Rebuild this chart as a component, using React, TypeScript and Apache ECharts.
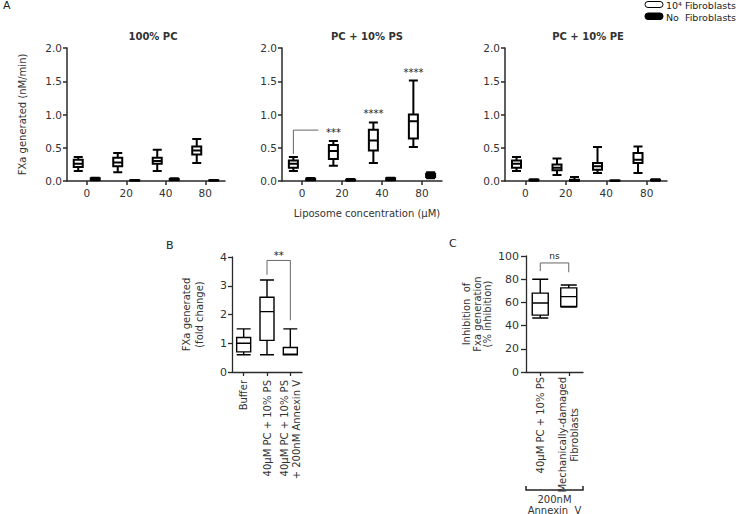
import React, { useEffect, useRef } from 'react';
import * as echarts from 'echarts';

const FONT = 'DejaVu Sans';
const TEXT = '#333';
const AXIS = '#2a2a2a';

// ---------- Panel A ----------
const concentrations = ['0', '20', '40', '80'];
const panelTitles = ['100% PC', 'PC + 10% PS', 'PC + 10% PE'];
// boxplot values: [min, Q1, median, Q3, max]
const pcFibro = [[0.15, 0.21, 0.26, 0.32, 0.36], [0.13, 0.22, 0.28, 0.35, 0.42], [0.15, 0.26, 0.30, 0.35, 0.47], [0.27, 0.40, 0.46, 0.52, 0.63]];
const pcNoFibro = [[0.01, 0.02, 0.03, 0.04, 0.05], [0.004, 0.007, 0.01, 0.013, 0.016], [0.01, 0.015, 0.02, 0.03, 0.04], [0.004, 0.007, 0.01, 0.013, 0.016]];
const psFibro = [[0.15, 0.20, 0.26, 0.31, 0.36], [0.23, 0.33, 0.45, 0.54, 0.60], [0.27, 0.46, 0.61, 0.77, 0.88], [0.51, 0.64, 0.90, 1.00, 1.51]];
const psNoFibro = [[0.01, 0.015, 0.025, 0.035, 0.045], [0.005, 0.01, 0.015, 0.02, 0.03], [0.01, 0.02, 0.03, 0.04, 0.05], [0.04, 0.06, 0.09, 0.11, 0.13]];
const peFibro = [[0.15, 0.20, 0.26, 0.31, 0.36], [0.09, 0.16, 0.20, 0.25, 0.34], [0.12, 0.17, 0.22, 0.27, 0.51], [0.12, 0.27, 0.32, 0.42, 0.52]];
const peNoFibro = [[0.005, 0.01, 0.015, 0.02, 0.025], [0, 0.005, 0.01, 0.02, 0.06], [0, 0.003, 0.005, 0.007, 0.01], [0.005, 0.01, 0.015, 0.02, 0.025]];
const psStars = ['', '***', '****', '****'];
const legendNames = ['10⁴ Fibroblasts', 'No  Fibroblasts'];

// ---------- Panel B ----------
const bCategories = ['Buffer', '40μM PC + 10% PS', '40μM PC + 10% PS\n+ 200nM Annexin V'];
const bValues = [[0.6, 0.7, 1.0, 1.2, 1.5], [0.6, 1.1, 2.1, 2.6, 3.2], [0.6, 0.6, 0.62, 0.85, 1.5]];
const bBracket = { from: 1, to: 2, top: 3.88, leftEnd: 3.38, rightEnd: 1.8, label: '**' };

// ---------- Panel C ----------
const cCategories = ['40μM PC + 10% PS', 'Mechanically-damaged\nFibroblasts'];
const cValues = [[46.5, 49, 59.5, 68, 80], [56, 56.5, 65, 72.5, 75]];
const cBracket = { from: 0, to: 1, top: 94, leftEnd: 87, rightEnd: 86, label: 'ns' };
const cGroupLabel = ['200nM', 'Annexin  V'];

// layout
const gridsA = [
  { left: 67, width: 158 },
  { left: 282, width: 160 },
  { left: 505, width: 162 },
];
const A_TOP = 48;
const A_H = 133;

const tstyle = (size: number, extra: any = {}) => ({ fontSize: size, fontFamily: FONT, color: TEXT, ...extra });

function App() {
  const ref = useRef<HTMLDivElement>(null);
  useEffect(() => {
    document.body.style.margin = '0';
    if (!ref.current) return;
    const chart = echarts.init(ref.current, null, { renderer: 'svg' });

    const grids: any[] = gridsA.map((g) => ({ left: g.left, width: g.width, top: A_TOP, height: A_H }));
    grids.push({ left: 232, width: 70, top: 257, height: 115 });
    grids.push({ left: 526, width: 57, top: 256, height: 116 });

    const xAxes: any[] = [];
    const yAxes: any[] = [];
    for (let i = 0; i < 3; i++) {
      xAxes.push({
        type: 'category', gridIndex: i, data: concentrations,
        axisLine: { lineStyle: { color: AXIS, width: 1.5 } },
        axisTick: { show: true, alignWithLabel: true, length: 4, lineStyle: { color: AXIS, width: 1.5 } },
        axisLabel: { ...tstyle(10.5), margin: 6, interval: 0 },
      });
      yAxes.push({
        type: 'value', gridIndex: i, min: 0, max: 2, interval: 0.5,
        axisLine: { show: true, lineStyle: { color: AXIS, width: 1.5 } },
        axisTick: { show: true, length: 4, lineStyle: { color: AXIS, width: 1.5 } },
        axisLabel: { ...tstyle(10.5), margin: 5, formatter: (v: number) => v.toFixed(1) },
        splitLine: { show: false },
        name: i === 0 ? 'FXa generated (nM/min)' : '',
        nameLocation: 'middle', nameGap: 40,
        nameTextStyle: tstyle(10),
      });
    }
    // B
    xAxes.push({
      type: 'category', gridIndex: 3, data: bCategories,
      axisLine: { lineStyle: { color: AXIS, width: 1.3 } },
      axisTick: { show: true, alignWithLabel: true, length: 4, lineStyle: { color: AXIS, width: 1.3 } },
      axisLabel: { ...tstyle(10), rotate: 90, interval: 0, margin: 8, lineHeight: 12 },
    });
    yAxes.push({
      type: 'value', gridIndex: 3, min: 0, max: 4, interval: 1,
      axisLine: { show: true, lineStyle: { color: AXIS, width: 1.3 } },
      axisTick: { show: true, length: 4, lineStyle: { color: AXIS, width: 1.3 } },
      axisLabel: { ...tstyle(11), margin: 5 },
      splitLine: { show: false },
      name: 'FXa generated\n(fold change)', nameLocation: 'middle', nameGap: 26,
      nameTextStyle: tstyle(10, { lineHeight: 13 }),
    });
    // C
    xAxes.push({
      type: 'category', gridIndex: 4, data: cCategories,
      axisLine: { lineStyle: { color: AXIS, width: 1.3 } },
      axisTick: { show: true, alignWithLabel: true, length: 4, lineStyle: { color: AXIS, width: 1.3 } },
      axisLabel: {
        ...tstyle(10), rotate: 90, interval: 0, margin: 5, lineHeight: 12,
        formatter: (v: string) => v.split('\n').map((l) => `{c|${l}}`).join('\n'),
        rich: { c: { align: 'center', fontSize: 10, fontFamily: FONT, color: TEXT, lineHeight: 12 } },
      },
    });
    yAxes.push({
      type: 'value', gridIndex: 4, min: 0, max: 100, interval: 20,
      axisLine: { show: true, lineStyle: { color: AXIS, width: 1.3 } },
      axisTick: { show: true, length: 5, lineStyle: { color: AXIS, width: 1.3 } },
      axisLabel: { ...tstyle(11), margin: 7 },
      splitLine: { show: false },
      name: 'Inhibition  of\nFxa generation\n(% inhibition)', nameLocation: 'middle', nameGap: 33,
      nameTextStyle: tstyle(10, { lineHeight: 10.5 }),
    });

    const whiteStyle = (w: number) => ({ color: '#fff', borderColor: '#000', borderWidth: w });
    const blackStyle = { color: '#000', borderColor: '#000', borderWidth: 2 };
    const aSeries = [
      [pcFibro, pcNoFibro],
      [psFibro, psNoFibro],
      [peFibro, peNoFibro],
    ];
    const series: any[] = [];
    aSeries.forEach((pair, i) => {
      series.push({ type: 'boxplot', name: legendNames[0], xAxisIndex: i, yAxisIndex: i, data: pair[0], boxWidth: [9, 9], itemStyle: whiteStyle(2), silent: true });
      series.push({ type: 'boxplot', name: legendNames[1], xAxisIndex: i, yAxisIndex: i, data: pair[1], boxWidth: [9, 9], itemStyle: blackStyle, silent: true });
    });
    series.push({ type: 'boxplot', xAxisIndex: 3, yAxisIndex: 3, data: bValues, boxWidth: [14, 14], itemStyle: whiteStyle(1.4), silent: true });
    series.push({ type: 'boxplot', xAxisIndex: 4, yAxisIndex: 4, data: cValues, boxWidth: [16, 16], itemStyle: whiteStyle(1.4), silent: true });

    chart.setOption({
      animation: false,
      backgroundColor: '#fff',
      grid: grids,
      xAxis: xAxes,
      yAxis: yAxes,
      series,
    });

    const px = (g: number, cat: number, val: number) => chart.convertToPixel({ gridIndex: g } as any, [cat, val]) as number[];
    const text = (x: number, y: number, t: string, size: number, extra: any = {}) => ({
      type: 'text', x, y, silent: true,
      style: { text: t, fontSize: size, fontFamily: FONT, fill: TEXT, align: 'center', verticalAlign: 'middle', ...extra },
    });
    const line = (pts: number[][], w = 1, color = '#555') => ({
      type: 'polyline', silent: true, shape: { points: pts }, style: { stroke: color, lineWidth: w, fill: null },
    });

    const graphics: any[] = [];
    // panel letters
    graphics.push(text(3, 5, 'A', 11, { align: 'left', fill: '#222' }));
    graphics.push(text(166, 245, 'B', 11, { align: 'left', fill: '#222' }));
    graphics.push(text(449, 243, 'C', 11, { align: 'left', fill: '#222' }));

    // A titles
    const titleX = [153, 367, 588];
    panelTitles.forEach((t, i) => graphics.push(text(titleX[i], 36, t, 10, { fontWeight: 'bold' })));
    graphics.push(text(367, 213, 'Liposome concentration (μM)', 10));

    // legend
    graphics.push({ type: 'rect', silent: true, shape: { x: 645, y: 1.5, width: 18, height: 6, r: 3 }, style: { fill: '#fff', stroke: '#000', lineWidth: 1 } });
    graphics.push({ type: 'rect', silent: true, shape: { x: 645, y: 13, width: 18, height: 6.5, r: 3 }, style: { fill: '#000', stroke: '#000', lineWidth: 1 } });
    graphics.push(text(666, 5, legendNames[0], 9.5, { align: 'left', fill: '#222' }));
    graphics.push(text(666, 17, legendNames[1], 9.5, { align: 'left', fill: '#222' }));

    // A middle: stars & bracket
    const g1 = gridsA[1];
    const bw = g1.width / concentrations.length;
    const avail = bw * 0.8 - 2;
    const gap = (avail / 2) * 0.3;
    const boxW = (avail - gap) / 2;
    const off = boxW / 2 - avail / 2;
    const starY: number[] = [];
    psStars.forEach((s, i) => {
      const p = px(1, i, psFibro[i][4]);
      starY[i] = p[1] - 11;
      if (s) graphics.push(text(p[0] + off, starY[i] + 2.5, s, 10, { fill: '#222' }));
    });
    const p0 = px(1, 0, psFibro[0][4]);
    const p1 = px(1, 1, psFibro[1][4]);
    graphics.push(line([[p0[0] + off, p0[1] - 3], [p0[0] + off, starY[1]], [p1[0] + off - 15, starY[1]]], 1, '#666'));

    // B bracket
    {
      const l0 = px(3, bBracket.from, bBracket.leftEnd);
      const lt = px(3, bBracket.from, bBracket.top);
      const rt = px(3, bBracket.to, bBracket.top);
      const r0 = px(3, bBracket.to, bBracket.rightEnd);
      graphics.push(line([[l0[0], l0[1]], [lt[0], lt[1]], [rt[0], rt[1]], [r0[0], r0[1]]], 1, '#666'));
      graphics.push(text((lt[0] + rt[0]) / 2, lt[1] - 5, bBracket.label, 10, { fill: '#222' }));
    }
    // C bracket
    {
      const l0 = px(4, cBracket.from, cBracket.leftEnd);
      const lt = px(4, cBracket.from, cBracket.top);
      const rt = px(4, cBracket.to, cBracket.top);
      const r0 = px(4, cBracket.to, cBracket.rightEnd);
      graphics.push(line([[l0[0], l0[1]], [lt[0], lt[1]], [rt[0], rt[1]], [r0[0], r0[1]]], 1, '#666'));
      graphics.push(text((lt[0] + rt[0]) / 2, lt[1] - 7, cBracket.label, 9, { fill: '#222' }));
    }
    // C group bracket
    {
      const gl = 526, gr = 583, gy = 490;
      graphics.push(line([[gl, gy - 4], [gl, gy], [gr, gy], [gr, gy - 4]], 1.5, '#222'));
      graphics.push(text((gl + gr) / 2, 499, cGroupLabel[0], 10));
      graphics.push(text((gl + gr) / 2, 510, cGroupLabel[1], 10));
    }

    chart.setOption({ graphic: graphics });

    return () => chart.dispose();
  }, []);
  return <div ref={ref} style={{ width: 740, height: 514 }} />;
}

export default App;
